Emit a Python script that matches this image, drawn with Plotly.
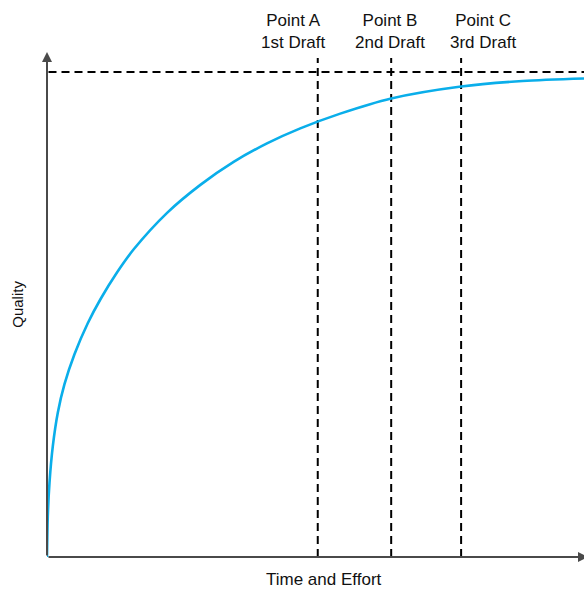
import plotly.graph_objects as go

# Curve (effort units, quality units)
effort = [0, 0.8, 2.5, 5.8, 10.8, 17.5, 27.5, 40.8, 53.5, 70.2, 86.8, 120.2, 153.5, 186.8,
          220.2, 253.5, 293.5, 344.5, 414.5, 476, 537.5]
quality = [0, 40.8, 74.5, 110.8, 144.5, 173, 203, 234, 258, 285, 308, 344.5, 372.5,
           395.5, 414, 429, 443.8, 459, 471, 476.5, 479]

draft_effort = [271, 344.5, 414.5]
draft_labels = ["Point A<br>1st Draft", "Point B<br>2nd Draft", "Point C<br>3rd Draft"]
label_x = [246.5, 343.5, 436]
max_quality = 485.5
dash_top = 499.5

X_MAX = 537.5
Y_MAX = 505.5
FONT = "Liberation Sans, Arial, Helvetica, sans-serif"

fig = go.Figure()
fig.add_trace(go.Scatter(
    x=effort, y=quality, mode="lines",
    line=dict(color="#0aaeea", width=2.6, shape="spline", smoothing=0.8),
    hoverinfo="skip", showlegend=False,
))

shapes = []
dash = "8px,5px"
shapes.append(dict(type="line", xref="x", yref="y", x0=1.5, x1=X_MAX, y0=max_quality, y1=max_quality,
                   line=dict(color="black", width=2, dash=dash), layer="below"))
for xv in draft_effort:
    shapes.append(dict(type="line", xref="x", yref="y", x0=xv, x1=xv, y0=0, y1=dash_top,
                       line=dict(color="black", width=2, dash=dash), layer="below"))

annotations = []
# axes with arrows
annotations.append(dict(x=0, y=Y_MAX, ax=0, ay=0, xref="x", yref="y", axref="x", ayref="y",
                        text="", showarrow=True, arrowhead=2, arrowsize=1.0, arrowwidth=2,
                        arrowcolor="#4a4a4a"))
annotations.append(dict(x=X_MAX + 4, y=0, ax=0, ay=0, xref="x", yref="y", axref="x", ayref="y",
                        text="", showarrow=True, arrowhead=2, arrowsize=1.0, arrowwidth=2,
                        arrowcolor="#4a4a4a"))
for lx, lab in zip(label_x, draft_labels):
    annotations.append(dict(x=lx / X_MAX, y=526 / Y_MAX, xref="paper", yref="paper", text=lab,
                            showarrow=False, xanchor="center", yanchor="middle",
                            font=dict(family=FONT, size=17, color="#111")))
annotations.append(dict(x=277.5 / X_MAX, y=-22.5 / Y_MAX, xref="paper", yref="paper",
                        text="Time and Effort", showarrow=False,
                        xanchor="center", yanchor="middle", font=dict(family=FONT, size=17, color="#111")))
annotations.append(dict(x=-29 / X_MAX, y=252.5 / Y_MAX, xref="paper", yref="paper", text="Quality",
                        showarrow=False, textangle=-90, xanchor="center", yanchor="middle",
                        font=dict(family=FONT, size=15, color="#111")))

fig.update_layout(
    width=584, height=589,
    margin=dict(l=46.5, r=0, t=52, b=31.5),
    paper_bgcolor="white", plot_bgcolor="white",
    xaxis=dict(range=[0, X_MAX], visible=False, fixedrange=True),
    yaxis=dict(range=[0, Y_MAX], visible=False, fixedrange=True),
    shapes=shapes, annotations=annotations,
)
fig.write_html("out.html", config={"displayModeBar": False},
               post_script="document.body.style.margin='0';document.body.style.overflow='hidden';")
